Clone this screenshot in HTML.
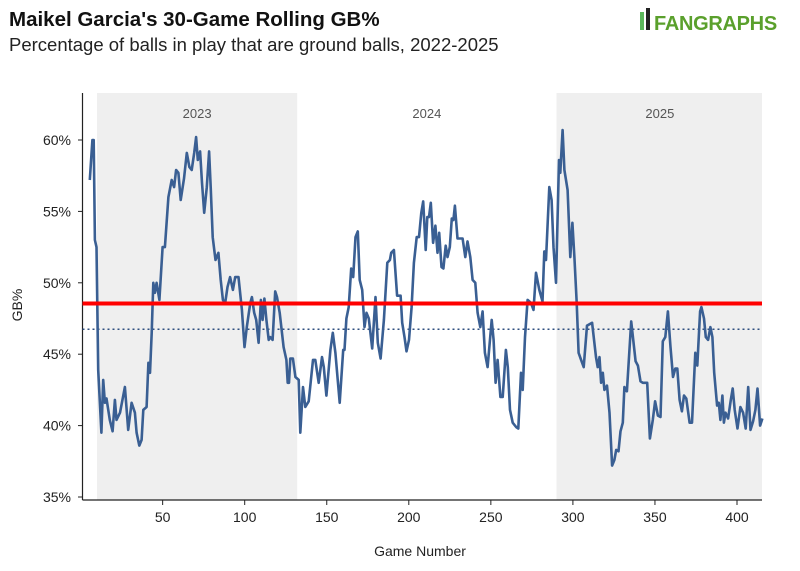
<!DOCTYPE html>
<html><head><meta charset="utf-8">
<style>
body{margin:0;background:#fff;font-family:"Liberation Sans",sans-serif;}
svg text{font-family:"Liberation Sans",sans-serif;}
</style></head>
<body>
<svg id="chart" width="800" height="566" viewBox="0 0 800 566" xmlns="http://www.w3.org/2000/svg">
<rect width="800" height="566" fill="#fff"/>
<text x="9" y="26" font-size="20.5" font-weight="bold" fill="#111">Maikel Garcia's 30-Game Rolling GB%</text>
<text x="9" y="51" font-size="18.5" fill="#222">Percentage of balls in play that are ground balls, 2022-2025</text>
<g>
<rect x="640" y="12" width="4" height="18" fill="#5cb85c"/>
<rect x="646" y="8" width="4" height="22" fill="#222"/>
<text x="654" y="30" font-size="20" font-weight="bold" fill="#5aa02c" letter-spacing="-0.3">FANGRAPHS</text>
</g>
<g id="plot"></g>
<text x="420" y="556" font-size="14" text-anchor="middle" fill="#222">Game Number</text>
<text x="22" y="305" font-size="14" text-anchor="middle" fill="#222" transform="rotate(-90 22 305)">GB%</text>
</svg>
<script>
const seasonLabels=["2023","2024","2025"];
const shadedSeasons=[[10,132],[290,416]];
const seasonCenters=[71,211,353];
const xTicks=[50,100,150,200,250,300,350,400];
const yTicks=[35,40,45,50,55,60];
const leagueAvg=48.55;
const careerAvg=46.75;
const games=[5.6,7.2,8.0,8.7,9.7,10.7,12.7,13.8,14.8,15.8,17.8,19.5,20.9,21.9,24.0,27.0,29.0,31.1,33.1,34.1,35.8,37.2,38.2,40.2,41.3,42.3,43.3,44.3,45.3,46.3,48.0,50.0,51.4,53.5,55.5,57.0,58.2,59.6,61.0,63.0,64.7,66.3,67.7,69.2,70.4,71.4,72.8,74.0,75.3,76.9,78.3,79.3,80.5,82.2,84.0,85.4,86.7,88.1,89.5,91.1,92.8,94.2,96.2,98.3,99.9,101.3,103.4,104.4,105.8,107.0,108.5,109.9,110.9,112.0,113.2,114.6,115.6,117.0,118.6,119.7,121.3,123.7,125.4,126.2,127.0,127.8,129.4,130.9,132.9,
133.9,135.5,136.9,139.0,141.6,143.0,145.1,147.1,148.2,149.8,152.2,153.7,155.3,157.9,160.0,160.8,162.0,163.4,164.9,166.1,167.5,168.9,170.1,171.6,173.0,174.2,175.6,177.7,179.7,181.1,182.8,184.8,186.9,188.5,189.3,190.9,192.9,195.0,196.0,197.4,198.6,200.1,201.7,203.1,204.8,206.2,207.6,208.8,210.3,211.3,212.3,213.4,214.8,216.2,217.5,218.5,219.9,221.1,222.5,223.6,225.0,226.2,227.2,228.1,229.7,232.8,234.4,235.8,237.5,238.9,240.5,241.9,243.6,245.0,246.4,248.0,250.5,251.7,252.9,254.1,255.8,257.2,259.2,260.3,261.7,263.3,265.4,266.7,268.4,269.4,270.8,272.4,
274.4,276.0,277.5,279.5,281.5,282.6,283.6,285.6,287.0,288.2,289.7,291.5,292.3,293.7,294.8,296.8,298.4,299.7,300.9,302.3,303.5,305.0,306.6,308.6,311.7,314.1,315.1,316.2,317.2,318.2,319.2,320.8,322.3,323.9,325.3,326.4,327.8,329.0,330.4,331.4,332.9,335.5,338.2,339.6,341.2,342.6,345.3,346.9,348.7,350.1,351.8,353.4,354.8,356.3,357.9,359.5,361.0,362.4,363.6,365.0,366.4,367.7,369.1,371.1,372.6,374.6,375.8,377.5,378.3,379.9,381.0,382.4,383.8,385.0,386.1,387.9,388.9,389.9,391.1,392.0,393.0,394.6,396.2,397.4,398.6,400.3,402.1,403.7,405.3,406.8,408.2,409.8,411.2,412.5,414.1,415.5];
const gbPct=[57.2,60.0,60.0,53.0,52.5,43.9,39.5,43.2,41.6,41.9,40.4,39.6,41.8,40.4,40.9,42.7,39.7,41.6,40.9,39.5,38.6,39.0,41.1,41.3,44.4,43.7,46.5,50.0,49.3,50.0,48.8,52.5,52.5,56.0,57.2,56.7,57.9,57.7,55.8,57.3,59.1,58.1,57.9,59.1,60.2,58.6,59.2,57.0,54.9,56.7,59.2,56.7,53.2,51.6,52.1,50.2,48.8,48.6,49.7,50.4,49.5,50.4,50.4,48.1,45.5,46.9,48.6,49.0,47.9,47.4,45.8,48.8,47.4,48.9,47.4,46.0,46.2,46.0,49.4,49.0,47.9,45.5,44.6,43.0,43.0,44.7,44.7,43.4,43.2,
39.5,42.7,41.3,41.7,44.6,44.6,43.0,44.8,44.1,42.1,45.3,46.5,45.1,41.6,45.3,45.3,47.5,48.3,51.0,50.4,53.2,53.6,50.2,49.5,46.9,47.9,47.5,45.4,49.0,45.8,44.7,47.4,51.4,51.6,52.1,52.3,49.1,49.1,47.2,46.2,45.2,46.0,48.3,51.4,53.2,53.2,54.9,55.7,52.3,54.6,54.6,55.6,52.8,54.0,52.1,53.5,51.1,51.0,52.6,51.8,52.5,54.5,54.4,55.4,53.1,53.1,51.8,52.9,51.8,50.2,50.0,47.9,46.9,48.0,45.1,44.1,47.4,46.0,43.0,44.6,42.0,42.0,45.3,44.1,41.1,40.2,39.9,39.8,43.7,42.5,46.2,48.8,
48.6,48.1,50.7,49.5,48.7,52.2,51.6,56.7,55.8,52.5,50.0,58.6,57.7,60.7,57.9,56.5,51.8,54.2,51.8,48.6,45.1,44.6,44.1,47.0,47.2,44.8,44.1,44.8,43.0,43.7,42.5,42.8,40.9,37.2,37.6,38.3,38.2,39.6,40.2,42.7,42.4,47.3,44.5,44.2,43.1,43.0,43.0,39.1,40.4,41.7,40.7,40.6,45.9,46.2,48.0,45.5,43.4,44.0,44.0,41.8,41.0,42.1,41.9,40.2,40.2,45.1,44.2,48.0,48.3,47.5,46.2,46.0,46.9,46.2,43.7,41.4,41.6,40.4,42.1,40.2,40.9,40.5,41.8,42.6,41.1,39.8,41.3,40.9,39.8,42.7,39.7,40.3,41.1,42.6,40.0,40.5];

const NS="http://www.w3.org/2000/svg";
const plot=document.getElementById('plot');
const X0=80.6,XPG=1.641,XEND=762,XAXY=500;
const xs=g=>X0+g*XPG;
const ys=v=>140+(60-v)*14.28;
function mk(t,a){const e=document.createElementNS(NS,t);for(const k in a)e.setAttribute(k,a[k]);plot.appendChild(e);return e;}
shadedSeasons.forEach((s,i)=>{
  const r=mk('rect',{x:xs(s[0]),y:93,width:Math.min(xs(s[1]),XEND)-xs(s[0]),height:XAXY-93,fill:'#efefef'});
  
  
});
seasonLabels.forEach((l,i)=>{
  const t=mk('text',{x:xs(seasonCenters[i]),y:118,'font-size':13,'text-anchor':'middle',fill:'#555'});
  t.textContent=l;
  
  
});
const ya=mk('line',{x1:82.5,y1:93,x2:82.5,y2:XAXY,stroke:'#222','stroke-width':1.2});


const xa=mk('line',{x1:82.5,y1:XAXY,x2:XEND,y2:XAXY,stroke:'#222','stroke-width':1.2});


yTicks.forEach(v=>{
  mk('line',{x1:78,y1:ys(v),x2:82.5,y2:ys(v),stroke:'#222'});
  const t=mk('text',{x:71,y:ys(v)+5,'font-size':14,'text-anchor':'end',fill:'#222'});
  t.textContent=v+'%';
  
  
});
xTicks.forEach(v=>{
  mk('line',{x1:xs(v),y1:XAXY,x2:xs(v),y2:XAXY+5,stroke:'#222'});
  const t=mk('text',{x:xs(v),y:XAXY+22,'font-size':14,'text-anchor':'middle',fill:'#222'});
  t.textContent=v;
  
  
});
const dl=mk('line',{x1:82.5,y1:ys(careerAvg),x2:XEND,y2:ys(careerAvg),stroke:'#2f4f7f','stroke-width':1.5,'stroke-dasharray':'2,3'});


const pts=games.map((g,i)=>xs(g).toFixed(1)+','+ys(gbPct[i]).toFixed(1)).join(' ');
const pl=mk('polyline',{points:pts,fill:'none',stroke:'#3a5f93','stroke-width':2.6,'stroke-linejoin':'round'});


const rl=mk('line',{x1:82.5,y1:ys(leagueAvg),x2:XEND,y2:ys(leagueAvg),stroke:'#ff0000','stroke-width':4});


</script>
</body></html>
